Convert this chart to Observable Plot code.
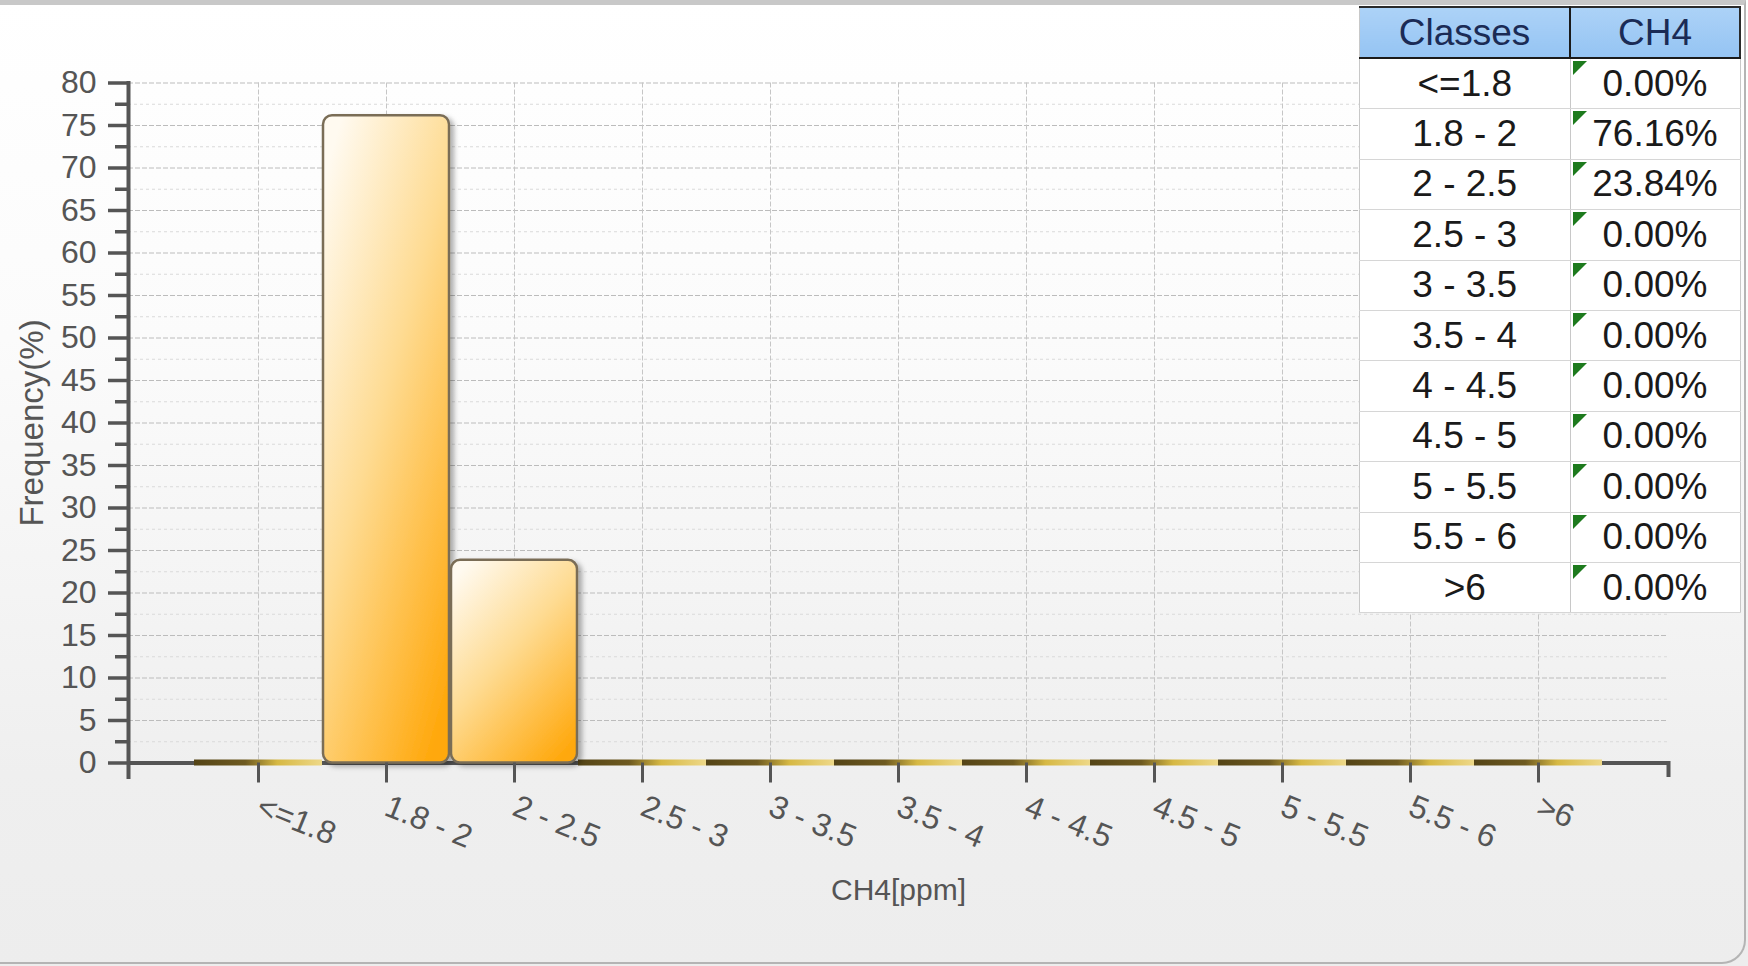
<!DOCTYPE html>
<html>
<head>
<meta charset="utf-8">
<script src="https://cdn.jsdelivr.net/npm/d3@7"></script>
<script src="https://cdn.jsdelivr.net/npm/@observablehq/plot@0.6"></script>
<style>
  html, body { margin: 0; padding: 0; background: #ffffff; }
  #panel { position: relative; width: 1748px; height: 966px; overflow: hidden;
    background: linear-gradient(to bottom, #ffffff 0%, #fbfbfb 35%, #efefef 80%, #ededed 100%); }
  #chart { position: absolute; left: 0; top: 0; }
  #frame { position: absolute; left: -4px; top: 0; width: 1750px; height: 964px; box-sizing: border-box;
    border-top: 5px solid #c8c8c8; border-right: 2px solid #b4b4b4; border-bottom: 2px solid #b4b4b4;
    border-bottom-right-radius: 24px; pointer-events: none; }
  #tbl { position: absolute; left: 1359px; top: 6px; width: 382px; border-collapse: collapse; table-layout: fixed;
    font-family: "Liberation Sans", Arial, sans-serif; font-size: 37px; background: #ffffff; }
  #tbl th { height: 49px; padding: 0; font-weight: normal; color: #1b2b55;
    background: linear-gradient(to bottom, #acd2f7, #95c4f3);
    border-top: 2px solid #2a2a2a; border-bottom: 2px solid #1a1a1a; }
  #tbl th.c1 { width: 209px; border-right: 2px solid #1a1a1a; border-left: 1px solid #c8c8c8; }
  #tbl th.c2 { border-right: 2px solid #2a2a2a; }
  #tbl td { height: 49.4px; padding: 0; text-align: center; color: #1a1a1a; border-bottom: 1px solid #d6d6d6; }
  #tbl td.c1 { border-left: 1px solid #c8c8c8; border-right: 1px solid #c8c8c8; }
  #tbl td.c2 { position: relative; border-right: 1px solid #c8c8c8; }
  #tbl td.c2::before { content: ""; position: absolute; left: 2px; top: 2px; width: 0; height: 0;
    border-top: 14px solid #1d7a1d; border-right: 14px solid transparent; }
</style>
</head>
<body>
<div id="panel">
  <div id="chart"></div>
  <table id="tbl"><thead><tr><th class="c1"></th><th class="c2"></th></tr></thead><tbody></tbody></table>
  <div id="frame"></div>
</div>
<script>
// ---- data ----
const classes = ["<=1.8", "1.8 - 2", "2 - 2.5", "2.5 - 3", "3 - 3.5", "3.5 - 4", "4 - 4.5", "4.5 - 5", "5 - 5.5", "5.5 - 6", ">6"];
const frequency = [0, 76.16, 23.84, 0, 0, 0, 0, 0, 0, 0, 0];
const yMajorTicks = [0, 5, 10, 15, 20, 25, 30, 35, 40, 45, 50, 55, 60, 65, 70, 75, 80];
const yMinorTicks = [2.5, 7.5, 12.5, 17.5, 22.5, 27.5, 32.5, 37.5, 42.5, 47.5, 52.5, 57.5, 62.5, 67.5, 72.5, 77.5];
const tableHeader = ["Classes", "CH4"];
const xTitle = "CH4[ppm]";
const yTitle = "Frequency(%)";

const rows = classes.map((c, i) => ({cls: c, freq: frequency[i]}));

const plot = Plot.plot({
  width: 1748,
  height: 966,
  marginLeft: 128,
  marginRight: 80,
  marginTop: 82.5,
  marginBottom: 203.5,
  style: {background: "transparent", fontFamily: "'Liberation Sans', Arial, sans-serif", color: "#555", overflow: "visible"},
  x: {type: "band", domain: classes, paddingInner: 0, paddingOuter: 0.5},
  y: {domain: [0, 80]},
  marks: [
    Plot.ruleY(yMinorTicks, {stroke: "#dadada", strokeDasharray: "3,3"}),
    Plot.ruleY(yMajorTicks.filter(v => v > 0), {stroke: "#bcbcbc", strokeDasharray: "5,2"}),
    Plot.ruleX(classes, {stroke: "#c6c6c6", strokeDasharray: "5,2"}),
    Plot.ruleY([0], {stroke: "#555", strokeWidth: 4}),
    Plot.frame({anchor: "left", stroke: "#555", strokeWidth: 4, insetBottom: -14}),
    Plot.frame({anchor: "right", stroke: "#555", strokeWidth: 4, insetTop: 680, insetBottom: -12}),
    Plot.barY(rows.filter(d => d.freq === 0), {x: "cls", y: "freq", insetTop: -3, insetBottom: -3, fill: "url(#stripeGrad)"}),
    Plot.barY(rows.filter(d => d.freq > 0), {x: "cls", y: "freq", insetLeft: 1, insetRight: 1, rx: 9,
      fill: "url(#barGrad)", stroke: "#7a6d57", strokeWidth: 2.5}),
    Plot.axisY(yMajorTicks, {tickSize: 20, tickPadding: 12, fontSize: 32, strokeWidth: 3.5, label: null}),
    Plot.axisY(yMinorTicks, {tickSize: 13, strokeWidth: 3.5, tickFormat: () => "", label: null}),
    Plot.axisX({tickSize: 20, tickPadding: 22, tickRotate: 22, fontSize: 32, strokeWidth: 3, label: null}),
    Plot.text([xTitle], {frameAnchor: "bottom", dy: 137, fontSize: 30, fill: "#555"}),
    Plot.text([yTitle], {frameAnchor: "left", textAnchor: "middle", dx: -96, rotate: -90, fontSize: 33, fill: "#555"})
  ]
});

const defs = document.createElementNS("http://www.w3.org/2000/svg", "defs");
defs.innerHTML = `
  <linearGradient id="barGrad" x1="0.15" y1="0" x2="0.85" y2="1">
    <stop offset="0" stop-color="#fffaf0"/>
    <stop offset="0.45" stop-color="#fedb92"/>
    <stop offset="1" stop-color="#ffa80c"/>
  </linearGradient>
  <linearGradient id="stripeGrad" x1="0" y1="0" x2="1" y2="0">
    <stop offset="0" stop-color="#544416"/>
    <stop offset="0.4" stop-color="#6e5a20"/>
    <stop offset="0.65" stop-color="#d6b843"/>
    <stop offset="1" stop-color="#eed888"/>
  </linearGradient>
  <filter id="shadow" x="-20%" y="-10%" width="140%" height="125%">
    <feDropShadow dx="4" dy="3" stdDeviation="2.5" flood-color="#000" flood-opacity="0.3"/>
  </filter>`;
plot.insertBefore(defs, plot.firstChild);
const barGroup = plot.querySelector('g[fill="url(#barGrad)"]');
if (barGroup) barGroup.setAttribute("filter", "url(#shadow)");
document.getElementById("chart").appendChild(plot);

// ---- table ----
const ths = document.querySelectorAll("#tbl th");
ths[0].textContent = tableHeader[0];
ths[1].textContent = tableHeader[1];
const tbody = document.querySelector("#tbl tbody");
rows.forEach(r => {
  const tr = document.createElement("tr");
  const a = document.createElement("td"); a.className = "c1"; a.textContent = r.cls;
  const b = document.createElement("td"); b.className = "c2"; b.textContent = r.freq.toFixed(2) + "%";
  tr.appendChild(a); tr.appendChild(b); tbody.appendChild(tr);
});
</script>
</body>
</html>
